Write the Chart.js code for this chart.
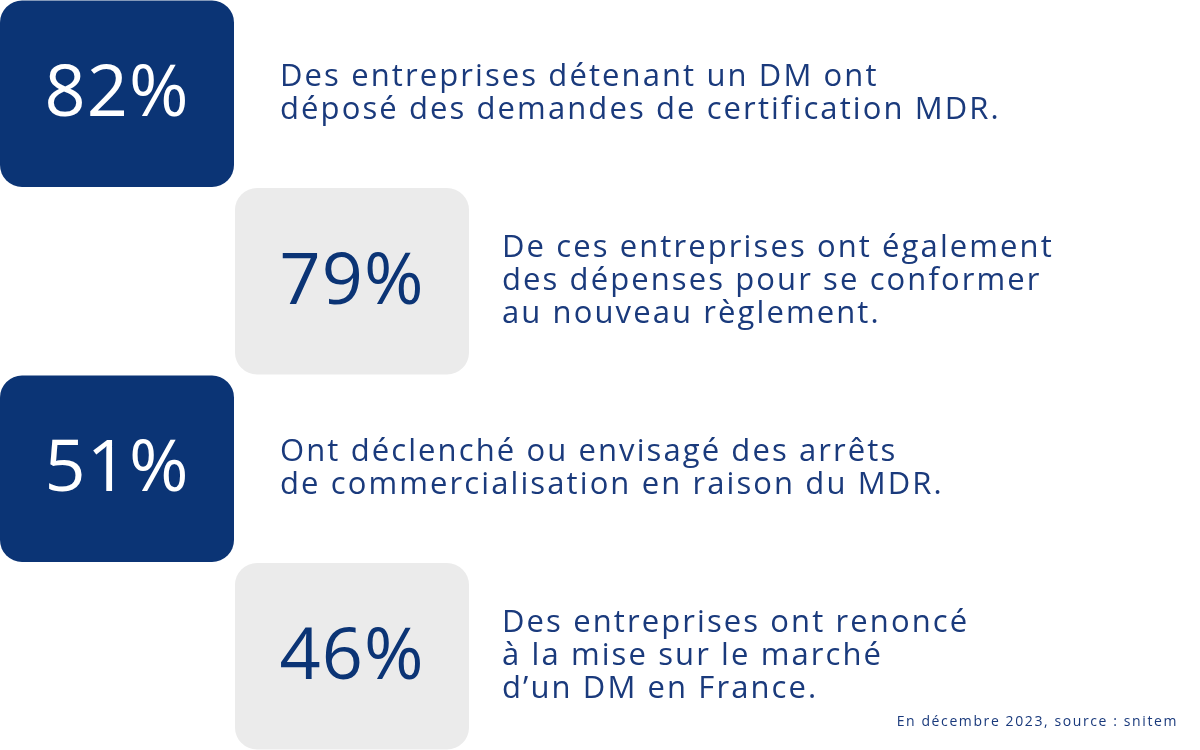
<!DOCTYPE html>
<html><head><meta charset="utf-8">
<script src="https://cdn.jsdelivr.net/npm/chart.js"></script>
<style>html,body{margin:0;padding:0;background:#fff}#w{width:1200px;height:750px}</style>
</head><body><div id="w"><canvas id="c"></canvas></div>
<script>
const categories = ['r1','r2','r3','r4'];
const percentages = [82, 79, 51, 46];
const descriptions = [
  ['Des entreprises détenant un DM ont','déposé des demandes de certification MDR.'],
  ['De ces entreprises ont également','des dépenses pour se conformer','au nouveau règlement.'],
  ['Ont déclenché ou envisagé des arrêts','de commercialisation en raison du MDR.'],
  ['Des entreprises ont renoncé','à la mise sur le marché','d’un DM en France.']
];
const source = 'En décembre 2023, source : snitem';
const boxRanges = [[0,234],[235,469],[0,234],[235,469]];
const dark = '#0b3475', light = '#ebebeb';
const colors = categories.map((_,i)=> i%2===0 ? dark : light);

const textPlugin = {
  id:'txt',
  afterDatasetsDraw(chart){
    const ctx = chart.ctx, meta = chart.getDatasetMeta(0);
    ctx.save();
    meta.data.forEach((bar,i)=>{
      const cx = (bar.x + bar.base)/2, cy = bar.y;
      ctx.letterSpacing = '1px';
      ctx.font = '400 72px "Open Sans", sans-serif';
      ctx.textAlign='center'; ctx.textBaseline='middle';
      ctx.fillStyle = i%2===0 ? '#ffffff' : dark;
      ctx.fillText(percentages[i]+'%', cx, cy+2);
      const lines = descriptions[i];
      const tx = Math.max(bar.x, bar.base) + (i%2===0 ? 46 : 33);
      ctx.letterSpacing = '2.1px';
      ctx.font = '400 31px "Open Sans", sans-serif';
      ctx.textAlign='left'; ctx.fillStyle = '#1a3a7c';
      const lh = 33, start = cy - (lines.length-1)*lh/2;
      lines.forEach((l,k)=>ctx.fillText(l, tx, start + k*lh));
    });
    ctx.letterSpacing = '1.6px';
    ctx.font = '400 14px "Open Sans", sans-serif';
    ctx.textAlign='right'; ctx.fillStyle='#1a3a7c';
    ctx.fillText(source, 1178, 722);
    ctx.restore();
  }
};

new Chart(document.getElementById('c'), {
  type:'bar',
  data:{labels:categories, datasets:[{data:boxRanges, backgroundColor:colors,
    borderRadius:22, borderSkipped:false, barPercentage:0.995, categoryPercentage:1}]},
  options:{indexAxis:'y', responsive:true, maintainAspectRatio:false, animation:false,
    layout:{padding:0},
    plugins:{legend:{display:false}, tooltip:{enabled:false}},
    scales:{x:{display:false,min:0,max:1200}, y:{display:false}}},
  plugins:[textPlugin]
});
</script></body></html>
